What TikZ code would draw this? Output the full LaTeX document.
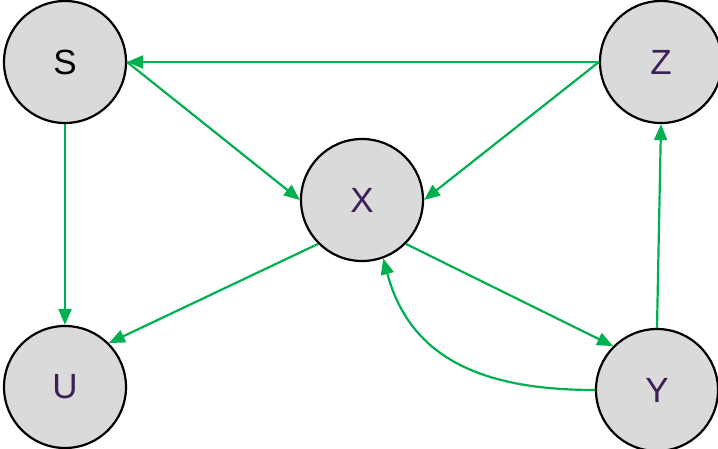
\documentclass[tikz,border=0pt]{standalone}
\usepackage{fontspec}
\setmainfont{Liberation Sans}
\usetikzlibrary{arrows.meta}
\definecolor{verde}{HTML}{00B050}
\definecolor{mov}{HTML}{3B1F55}
\definecolor{gri}{HTML}{DADADA}
\tikzset{
  cerc/.style    = {circle, draw=black, line width=2.2pt, fill=gri,
                    minimum size=122pt, inner sep=0pt, text=mov,
                    font=\fontsize{35}{40}\selectfont},
  sageata/.style = {-{Triangle[length=16pt, width=13pt]}, draw=verde,
                    line width=2.2pt}
}
\begin{document}
\begin{tikzpicture}[x=1pt, y=-1pt]
    \useasboundingbox (0,0) rectangle (718,448);
    \clip (0,0) rectangle (718,448);
    \node[cerc, text=black] (S) at (65,62) {S};
    \node[cerc] (Z) at (661,62) {Z};
    \node[cerc] (X) at (362,200) {X};
    \node[cerc] (U) at (65,387) {U};
    \node[cerc] (Y) at (657,390) {Y};

    \draw[sageata] (Z.west) -- (S.east);
    \draw[sageata] (S.east) -- (X.west);
    \draw[sageata] (Z.west) -- (X.east);
    \draw[sageata] (S.south) -- (U.north);
    \draw[sageata] (X.south west) -- (U.north east);
    \draw[sageata] (X.south east) -- (Y.north west);
    \draw[sageata] (Y.north) -- (Z.south);
    \draw[sageata] (Y.west) to[out=180, in=-75, looseness=1.1] (X.-70);
\end{tikzpicture}
\end{document}
